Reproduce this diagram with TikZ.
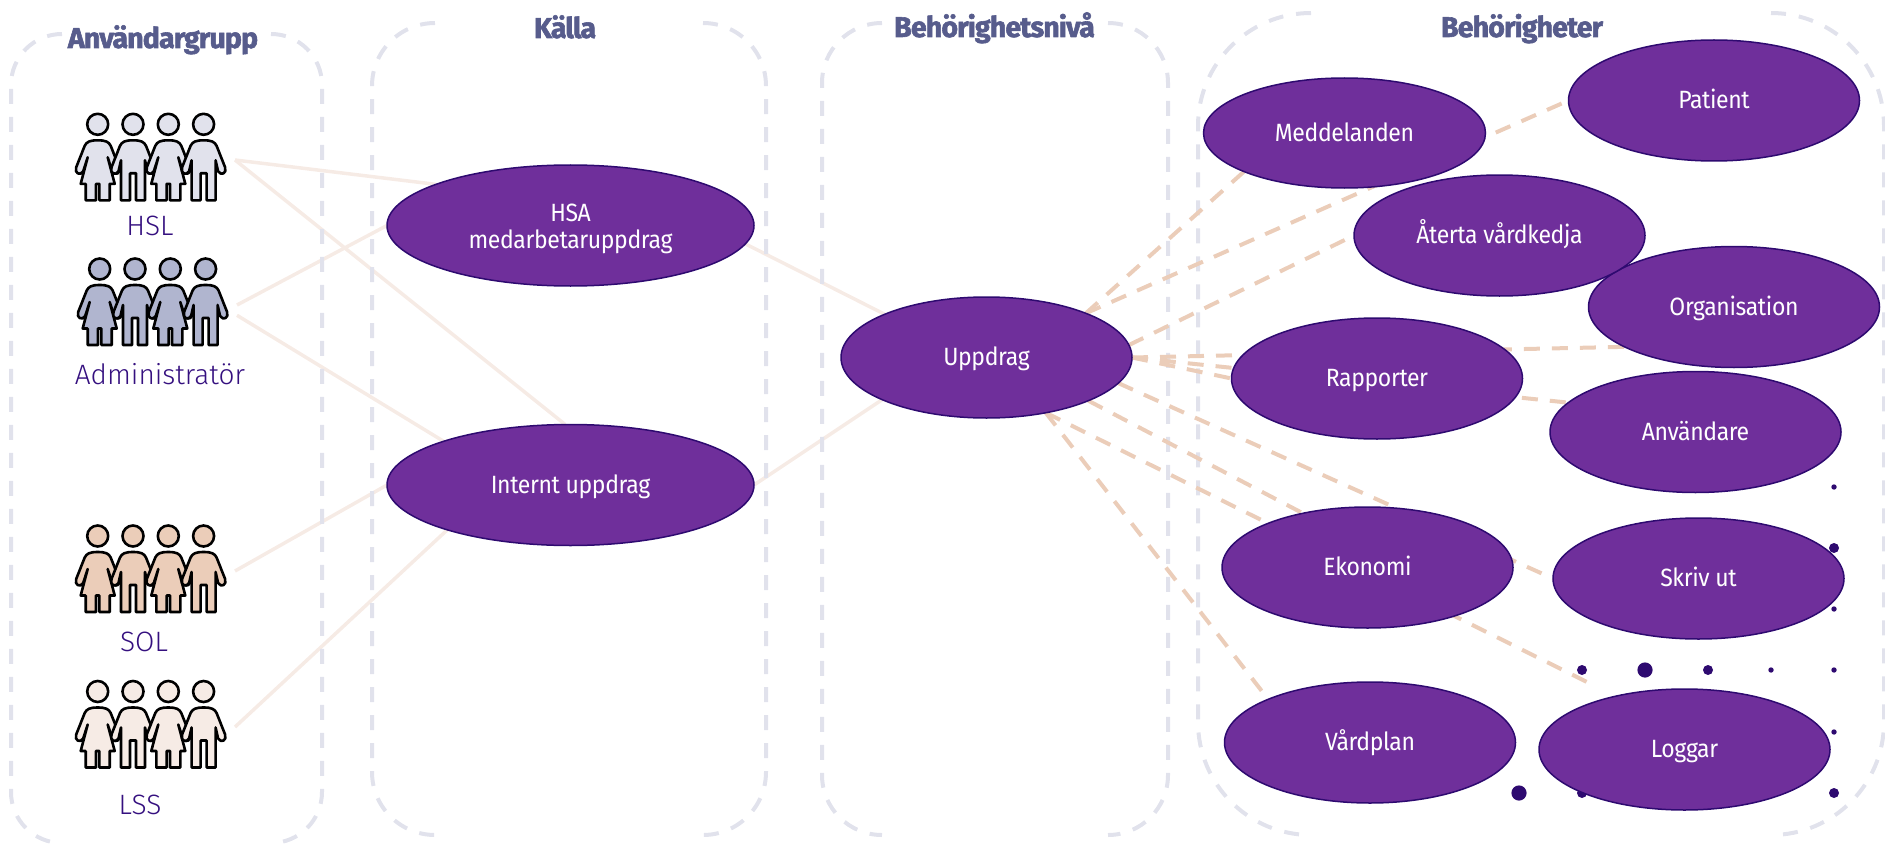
\documentclass[tikz,border=0pt]{standalone}
\usepackage{fontspec}
\usetikzlibrary{shapes.geometric,backgrounds}
\setmainfont{Fira Sans}
\newfontfamily\titlefont[FakeBold=2,LetterSpace=-3]{Fira Sans Bold}
\newfontfamily\ovalfont[LetterSpace=-1.5,FakeStretch=0.92]{Fira Sans}
\newfontfamily\grpfont{Fira Sans Light}
\definecolor{ovalfill}{HTML}{6F2F9B}
\definecolor{ovalline}{HTML}{2E0A70}
\definecolor{panelc}{HTML}{E1E2EC}
\definecolor{solidc}{HTML}{F6EBE5}
\definecolor{dashc}{HTML}{EBCDB9}
\definecolor{titlec}{HTML}{575C8C}
\definecolor{grpc}{HTML}{35107F}
\definecolor{admc}{HTML}{B0B5CF}
\tikzset{
  x=1pt,y=-1pt,
  oval/.style={ellipse,draw=ovalline,fill=ovalfill,line width=1.5pt,inner sep=0pt,outer sep=0pt,
    minimum width=291pt,minimum height=121pt,text=white,
    text height=22pt,text depth=5.4pt,
    font=\ovalfont\fontsize{25}{27}\selectfont},
  twolines/.style={align=center,text height={},text depth={}},
  titletext/.style={text=titlec,inner sep=0pt,anchor=base,font=\titlefont\fontsize{28.5}{30}\selectfont},
  grouplabel/.style={text=grpc,inner sep=0pt,font=\grpfont\fontsize{28}{30}\selectfont},
  groupbox/.style={inner sep=0pt,outer sep=0pt,minimum width=168pt,minimum height=90pt},
  panelline/.style={draw=panelc,line width=4pt,dash pattern=on 15pt off 13pt},
  solidlink/.style={draw=solidc,line width=3.5pt},
  dashlink/.style={draw=dashc,line width=4pt,dash pattern=on 16pt off 12pt},
  personshape/.style={draw=black,line width=2.6pt,line join=round},
}
\newcommand{\femalefig}[2]{%
  \begin{scope}[shift={(#1,0)}]
    \path[personshape,fill=#2] (0,16) .. controls (8,16) and (11,17.5) .. (13,21.5) -- (21.5,43)
      .. controls (23.5,49) and (17.5,52) .. (14.5,47) -- (10,33) -- (17,59.5) -- (12,59.5) -- (12,76)
      -- (1.7,76) -- (1.7,59.5) -- (-1.7,59.5) -- (-1.7,76) -- (-12,76) -- (-12,59.5) -- (-17,59.5)
      -- (-10,33) -- (-14.5,47) .. controls (-17.5,52) and (-23.5,49) .. (-21.5,43) -- (-13,21.5)
      .. controls (-11,17.5) and (-8,16) .. (0,16) -- cycle;
    \path[personshape,fill=#2] (0,0) circle[radius=10.5pt];
  \end{scope}}
\newcommand{\malefig}[2]{%
  \begin{scope}[shift={(#1,0)}]
    \path[personshape,fill=#2] (0,16) .. controls (8,16) and (11,17.5) .. (13,21.5) -- (21.5,43)
      .. controls (23.5,49) and (17.5,52) .. (14.5,47) -- (12,36) -- (12,76) -- (3,76) -- (3,49)
      -- (-3,49) -- (-3,76) -- (-12,76) -- (-12,36) -- (-14.5,47)
      .. controls (-17.5,52) and (-23.5,49) .. (-21.5,43) -- (-13,21.5)
      .. controls (-11,17.5) and (-8,16) .. (0,16) -- cycle;
    \path[personshape,fill=#2] (0,0) circle[radius=10.5pt];
  \end{scope}}
\newcommand{\peoplerow}[3]{%
  \begin{scope}[shift={(#1,#2)}]
    \femalefig{0}{#3}\malefig{35.3}{#3}\femalefig{70.6}{#3}\malefig{105.9}{#3}
  \end{scope}}
\newcommand{\sidepanel}[5]{% left right top bottom radius
  \path[panelline,rounded corners=#5pt] (#1+#5,#3) -- (#1,#3) -- (#1,#4) -- (#1+#5,#4);
  \path[panelline,rounded corners=#5pt] (#2-#5,#3) -- (#2,#3) -- (#2,#4) -- (#2-#5,#4);}
\newcommand{\bubble}[3]{\fill[ovalline] (#1,#2) circle[radius=#3pt];}
\begin{document}
\begin{tikzpicture}
\path[use as bounding box] (0,0) rectangle (1885,848);

% dots
\bubble{1834}{487}{2.7}\bubble{1834}{548}{5}\bubble{1834}{609}{2.7}
\bubble{1582}{670}{5}\bubble{1645}{670}{7.6}\bubble{1708}{670}{5}\bubble{1771}{670}{2.7}\bubble{1834}{670}{2.7}
\bubble{1834}{732}{2.7}
\bubble{1519}{793}{7.6}\bubble{1582}{793}{5}\bubble{1771}{793}{5}\bubble{1834}{793}{5}

% people
\peoplerow{97.7}{124.3}{panelc}
\peoplerow{99.7}{269}{admc}
\peoplerow{97.7}{536}{dashc}
\peoplerow{97.7}{691.5}{solidc}

\node[groupbox] (hsl) at (151,160) {};
\node[groupbox] (adm) at (153,305) {};
\node[groupbox] (sol) at (151,571) {};
\node[groupbox] (lss) at (151,727) {};
\node[grouplabel] (lhsl) at (150,226) {HSL};
\node[grouplabel] (ladm) at (160,374) {Administratör};
\node[grouplabel] (lsol) at (144,642) {SOL};
\node[grouplabel] (llss) at (140,805) {LSS};

% titles
\node[titletext] (t1) at (163,48) {Användargrupp};
\node[titletext] (t2) at (565,38) {Källa};
\node[titletext] (t3) at (994.5,37) {Behörighetsnivå};
\node[titletext] (t4) at (1522,37) {Behörigheter};

% ellipses
\node[oval,twolines,minimum width=367pt] (hsa) at (570.5,225.5) {\rule{0pt}{24.5pt}HSA\\medarbetaruppdrag};
\node[oval,minimum width=367pt] (int) at (570.5,485) {Internt uppdrag};
\node[oval] (upp) at (986.5,357.5) {Uppdrag};
\node[oval,minimum width=282pt,minimum height=110pt] (med) at (1344.5,133) {Meddelanden};
\node[oval] (pat) at (1714,100.5) {Patient};
\node[oval] (org) at (1734,307) {Organisation};
\node[oval] (ate) at (1499.5,235.5) {Återta vårdkedja};
\node[oval] (rap) at (1377,378.5) {Rapporter};
\node[oval] (anv) at (1695.5,432) {Användare};
\node[oval] (skr) at (1698.5,578.5) {Skriv ut};
\node[oval] (eko) at (1367.5,567.5) {Ekonomi};
\node[oval] (vap) at (1370,742.5) {Vårdplan};
\node[oval] (log) at (1684.5,749.5) {Loggar};
\coordinate (logend) at (1593,685);

\begin{pgfonlayer}{background}
  % solid links
  \path[solidlink] (hsl.east) -- (hsa.163);
  \path[solidlink] (hsl.east) -- (int.95);
  \path[solidlink] (adm.east) -- (hsa.west);
  \path[solidlink] (adm.-7) -- (int.161);
  \path[solidlink] (sol.east) -- (int.west);
  \path[solidlink] (lss.east) -- (int.200);
  \path[solidlink] (hsa.-6) -- (upp.157);
  \path[solidlink] (int.east) -- (upp.202);
  % panels
  \sidepanel{11}{322}{34}{843}{51}
  \sidepanel{372}{766}{23}{835}{63}
  \sidepanel{822}{1168}{23}{835}{60}
  \sidepanel{1198}{1884}{13}{835}{113}
  % dashed links
  \path[dashlink] (upp.24) -- (med.201);
  \path[dashlink] (upp.24) -- (pat.west);
  \path[dashlink] (upp.5.6) -- (ate.west);
  \path[dashlink] (upp.east) -- (org.200);
  \path[dashlink] (upp.east) -- (anv.167);
  \path[dashlink] (upp.east) -- (rap.west);
  \path[dashlink] (upp.-11) -- (skr.west);
  \path[dashlink] (upp.-23.5) -- (eko.140);
  \path[dashlink] (upp.-43.5) -- (logend);
  \path[dashlink] (upp.-43.5) -- (vap.157);
\end{pgfonlayer}
\end{tikzpicture}
\end{document}
